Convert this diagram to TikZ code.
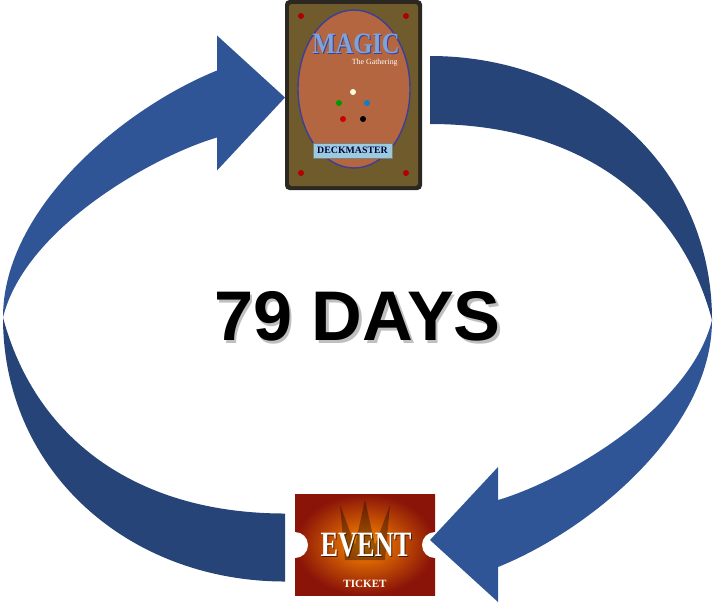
\documentclass[tikz,border=0pt]{standalone}
\usepackage{fontspec}
\setmainfont{Liberation Serif}
\setsansfont{Liberation Sans}
\usepackage{xcolor}
\usepackage{graphicx}
\definecolor{arrowlight}{HTML}{2F5597}
\definecolor{arrowdark}{HTML}{264478}
\definecolor{cardframe}{HTML}{2B2822}
\definecolor{cardgold}{HTML}{6F5B2B}
\definecolor{cardoval}{HTML}{B3663F}
\definecolor{ovalline}{HTML}{3C3F98}
\definecolor{magicblue}{HTML}{7FA3D8}
\definecolor{bannerblue}{HTML}{9CCBE0}
\definecolor{ticketred}{HTML}{8A1408}
\newcommand{\halfloop}{%
  \fill[arrowdark] (430,56) .. controls (585,56) and (712,165) .. (712,320)
    .. controls (680,200) and (580,124) .. (430,124) -- cycle;
  \fill[arrowlight] (712,320) .. controls (712,430) and (590,530) .. (498,567)
    -- (498,602) -- (430,540) -- (498,467) -- (498,500)
    .. controls (560,482) and (690,410) .. (712,320) -- cycle;}

\begin{document}
\begin{tikzpicture}[x=0.02cm, y=-0.02cm, every node/.style={inner sep=0pt}]
\useasboundingbox (0,0) rectangle (715,609);
% Ticket
\shade[inner color=orange!90!yellow, outer color=ticketred] (295,494) rectangle (435,595);
\fill[black, opacity=0.35] (345,560) -- (340,505) -- (355,545) -- (365,500) -- (375,545) -- (390,505) -- (385,560) -- cycle;
\fill[white] (295,545) circle[radius=13];
\fill[white] (435,545) circle[radius=13];
\node[text=black, opacity=0.6, font=\bfseries\fontsize{15}{15}\selectfont] (eventshadow) at (367,546) {\scalebox{1}[1.35]{EVENT}};
\node[text=white, font=\bfseries\fontsize{15}{15}\selectfont] (event) at (366,545) {\scalebox{1}[1.35]{EVENT}};
\node[text=white, font=\bfseries\fontsize{6.3}{6.3}\selectfont] (ticket) at (365,584) {TICKET};
% Card
\fill[cardframe, rounded corners=2.5pt] (285,0) rectangle (422,190);
\fill[cardgold, rounded corners=1.5pt] (289,4) rectangle (418,186);
\filldraw[fill=cardoval, draw=ovalline, line width=0.8pt] (354,89) ellipse[x radius=56, y radius=79];
\foreach \p in {(301,16),(406,16),(301,173),(406,173)}
  \fill[red!70!black] \p circle[radius=3];
\foreach \c/\x/\y in {white!85!yellow/353/92, green!60!black/339/103, cyan!60!blue/367/103, red!80!black/343/119, black/363/119}
  \fill[\c] (\x,\y) circle[radius=3];
\node[text=ovalline, font=\bfseries\fontsize{14}{14}\selectfont] (magicshadow) at (357,45) {\scalebox{1}[1.2]{MAGIC}};
\node[text=magicblue, font=\bfseries\fontsize{14}{14}\selectfont] (magic) at (356,44) {\scalebox{1}[1.2]{MAGIC}};
\node[text=white, anchor=east, font=\fontsize{4.5}{5}\selectfont] (gathering) at (398,63) {The Gathering};
\filldraw[fill=bannerblue, draw=cardframe!60, line width=0.3pt] (313,143) rectangle (392,158);
\node[text=black!75!blue, font=\bfseries\fontsize{5.6}{5.6}\selectfont] (deckmaster) at (352.5,150.5) {DECKMASTER};
% Arrows
\halfloop
\begin{scope}[rotate around={180:(357.5,318.75)}]
\halfloop
\end{scope}
% Days
\node[text=black, opacity=0.25, font=\sffamily\bfseries\fontsize{40}{40}\selectfont] (daysshadow) at (360,319) {79 DAYS};
\node[font=\sffamily\bfseries\fontsize{40}{40}\selectfont] (days) at (357.5,316) {79 DAYS};
\end{tikzpicture}
\end{document}
